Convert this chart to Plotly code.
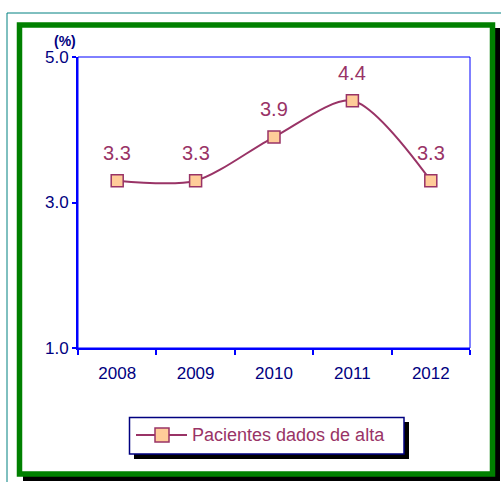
import plotly.graph_objects as go

years = ["2008", "2009", "2010", "2011", "2012"]
values = [3.3, 3.3, 3.9, 4.4, 3.3]
value_labels = ["3.3", "3.3", "3.9", "4.4", "3.3"]
y_tickvals = [1, 3, 5]
y_ticktext = ["1.0", "3.0", "5.0"]
series_name = "Pacientes dados de alta"

W, H = 501, 482
L, R, T, B = 78, 470, 57, 348

MAROON = "#993366"
PEACH = "#FFCC99"
NAVY = "#000080"
BLUE = "#0000FF"


def px(x):
    return (x - L) / (R - L)


def py(y):
    return (B - y) / (B - T)


fig = go.Figure()
fig.add_trace(go.Scatter(
    x=years, y=values, name=series_name, mode="lines+markers",
    line=dict(color=MAROON, width=2, shape="spline", smoothing=0.8),
    marker=dict(symbol="square", size=12, color=PEACH,
                line=dict(color=MAROON, width=1.5)),
    showlegend=False, cliponaxis=False,
))

annotations = []
for i, (v, t) in enumerate(zip(values, value_labels)):
    annotations.append(dict(x=i, y=v, xref="x", yref="y", text=t, showarrow=False,
                            yshift=28, font=dict(family="Arial", size=20, color=MAROON)))

annotations.append(dict(x=px(65), y=py(41), xref="paper", yref="paper", text="<b>(%)</b>",
                        showarrow=False, xanchor="center", yanchor="middle",
                        font=dict(family="Arial", size=14, color=NAVY)))

annotations.append(dict(x=px(190), y=py(435), xref="paper", yref="paper", text=series_name,
                        showarrow=False, xanchor="left", yanchor="middle",
                        font=dict(family="Arial", size=18, color=MAROON)))

shapes = [
    dict(type="rect", xref="paper", yref="paper", x0=px(7), y0=py(13), x1=px(520), y1=py(500),
         line=dict(color="#008080", width=1), fillcolor="rgba(0,0,0,0)", layer="below"),
    dict(type="rect", xref="paper", yref="paper", x0=px(23), y0=py(28), x1=px(500), y1=py(481),
         line=dict(width=0), fillcolor="black", layer="below"),
    dict(type="rect", xref="paper", yref="paper", x0=px(19.5), y0=py(25), x1=px(492.5), y1=py(474),
         line=dict(color="#008000", width=5.5), fillcolor="white", layer="below"),
    dict(type="rect", xref="paper", yref="paper", x0=0, y0=0, x1=1, y1=1,
         line=dict(color=BLUE, width=1), fillcolor="rgba(0,0,0,0)", layer="below"),
    dict(type="rect", xref="paper", yref="paper", x0=px(134), y0=py(422), x1=px(409), y1=py(459),
         line=dict(width=0), fillcolor="black", layer="above"),
    dict(type="rect", xref="paper", yref="paper", x0=px(129.5), y0=py(417.5), x1=px(404), y1=py(454),
         line=dict(color=NAVY, width=1.5), fillcolor="white", layer="above"),
    dict(type="line", xref="paper", yref="paper", x0=px(136), y0=py(435), x1=px(187), y1=py(435),
         line=dict(color=MAROON, width=2), layer="above"),
    dict(type="rect", xref="paper", yref="paper", x0=px(155), y0=py(428), x1=px(169), y1=py(442),
         line=dict(color=MAROON, width=1.5), fillcolor=PEACH, layer="above"),
]

fig.update_layout(
    width=W, height=H,
    margin=dict(l=L, r=W - R, t=T, b=H - B, pad=0),
    paper_bgcolor="white", plot_bgcolor="rgba(0,0,0,0)",
    font=dict(family="Arial", size=17, color=NAVY),
    shapes=shapes, annotations=annotations,
    showlegend=False,
    xaxis=dict(type="category", range=[-0.5, 4.5], showgrid=False, zeroline=False,
               showline=True, linecolor=BLUE, linewidth=2,
               ticks="outside", tickson="boundaries", ticklen=5, tickwidth=2, tickcolor=BLUE,
               tickfont=dict(family="Arial", size=17, color=NAVY), ticklabelstandoff=9),
    yaxis=dict(range=[1, 5], tickvals=y_tickvals, ticktext=y_ticktext, showgrid=False,
               zeroline=False, showline=True, linecolor=BLUE, linewidth=2,
               ticks="outside", ticklen=4, tickwidth=2, tickcolor=BLUE,
               tickfont=dict(family="Arial", size=17, color=NAVY)),
)

fig.write_html("out.html", config={"displayModeBar": False},
               post_script="document.body.style.margin='0';document.body.style.overflow='hidden';")
